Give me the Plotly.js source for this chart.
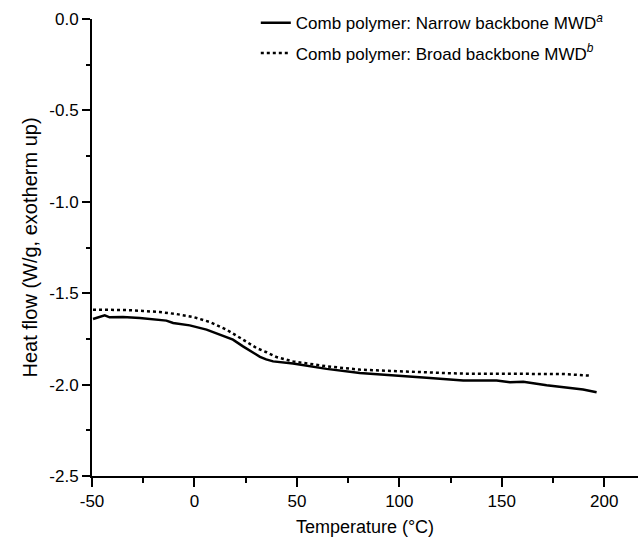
<!DOCTYPE html>
<html>
<head>
<meta charset="utf-8">
<script src="https://cdn.plot.ly/plotly-3.0.1.min.js"></script>
<style>html,body{margin:0;padding:0;background:#fff;}#chart{width:639px;height:545px;}</style>
</head>
<body>
<div id="chart"></div>
<script>
// Data (temperature in °C, heat flow in W/g)
const narrowT = [-49.5, -46, -43.8, -41.4, -34.9, -26.7, -18.6, -13.7, -10.4, -2.3, 5.9, 14, 18.8, 23.7, 28.6, 32, 35, 38.4, 48.1, 56.3, 64.5, 80.7, 97, 113.3, 131.2, 147.5, 154, 160.5, 171.9, 180, 189.7, 196.3];
const narrowV = [-1.641, -1.63, -1.621, -1.632, -1.630, -1.636, -1.645, -1.650, -1.663, -1.676, -1.699, -1.732, -1.754, -1.791, -1.827, -1.848, -1.862, -1.873, -1.885, -1.900, -1.914, -1.936, -1.951, -1.962, -1.978, -1.978, -1.987, -1.984, -2.004, -2.015, -2.027, -2.042];
const broadT = [-49.5, -41.4, -33.2, -25.1, -16.9, -8.8, -0.7, 7.4, 15.6, 23.7, 30.3, 35.2, 40, 48.1, 64.5, 80.7, 97, 119.8, 131.2, 147.5, 163.8, 180, 193];
const broadV = [-1.590, -1.590, -1.592, -1.597, -1.603, -1.614, -1.630, -1.657, -1.699, -1.754, -1.800, -1.823, -1.849, -1.873, -1.900, -1.918, -1.927, -1.936, -1.940, -1.942, -1.942, -1.942, -1.951];
const seriesNames = ['Comb polymer: Narrow backbone MWD<sup><i>a</i></sup>', 'Comb polymer: Broad backbone MWD<sup><i>b</i></sup>'];
const xTickVals = [-50, 0, 50, 100, 150, 200];
const yTickVals = [0, -0.5, -1.0, -1.5, -2.0, -2.5];
const yTickText = ['0.0', '-0.5', '-1.0', '-1.5', '-2.0', '-2.5'];

const font = 'Liberation Sans, Arial, sans-serif';
const narrowFont = 'Liberation Sans Narrow, Arial Narrow, Liberation Sans, sans-serif';
const traces = [
  {x: narrowT, y: narrowV, name: seriesNames[0], legendgroup: 'a', mode: 'lines', line: {color: '#000', width: 2.5}},
  {x: broadT, y: broadV, name: seriesNames[1], legendgroup: 'b', mode: 'lines', line: {color: '#000', width: 2.5, dash: 'dot'}}
];
const layout = {
  width: 639, height: 545,
  margin: {l: 92, r: 1, t: 19, b: 69},
  paper_bgcolor: '#fff', plot_bgcolor: '#fff',
  font: {family: font, size: 16, color: '#000'},
  showlegend: true,
  legend: {x: 0.30, y: 1.03, xanchor: 'left', yanchor: 'top', bgcolor: 'rgba(0,0,0,0)', traceorder: 'grouped', tracegroupgap: 5,
           font: {family: narrowFont, size: 17, color: '#000'}},
  xaxis: {
    range: [-50, 216.5], tickvals: xTickVals, ticktext: xTickVals.map(String),
    showgrid: false, zeroline: false, showline: true, linecolor: '#000', linewidth: 2,
    ticks: 'outside', ticklen: 9, tickwidth: 2, tickcolor: '#000',
    minor: {dtick: 25, tick0: -50, ticks: 'outside', ticklen: 5, tickwidth: 2, tickcolor: '#000', showgrid: false},
    tickfont: {family: font, size: 17, color: '#000'},
    title: {text: 'Temperature (°C)', font: {family: font, size: 18, color: '#000'}, standoff: 10}
  },
  yaxis: {
    range: [-2.5, 0], tickvals: yTickVals, ticktext: yTickText,
    showgrid: false, zeroline: false, showline: true, linecolor: '#000', linewidth: 2,
    ticks: 'outside', ticklen: 8, tickwidth: 2, tickcolor: '#000',
    minor: {dtick: 0.25, tick0: 0, ticks: 'outside', ticklen: 4, tickwidth: 2, tickcolor: '#000', showgrid: false},
    tickfont: {family: font, size: 17, color: '#000'},
    title: {text: 'Heat flow (W/g, exotherm up)', font: {family: font, size: 20, color: '#000'}, standoff: 6}
  }
};
Plotly.newPlot('chart', traces, layout, {displayModeBar: false, staticPlot: true});
</script>
</body>
</html>
